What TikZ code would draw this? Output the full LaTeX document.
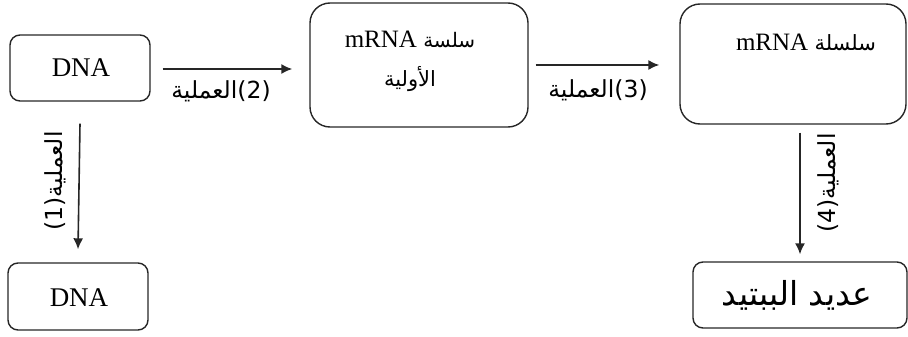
\documentclass[tikz,border=0pt]{standalone}
\usepackage{fontspec}
\setmainfont{Liberation Serif}
\newfontfamily\arabicfont[Script=Arabic]{DejaVu Sans}
\TeXXeTstate=1
\usetikzlibrary{arrows.meta}
% right-to-left Arabic run
\newcommand\artxt[1]{{\arabicfont\beginR #1\endR}}
\begin{document}
\begin{tikzpicture}[x=1pt,y=-1pt,
  box/.style={draw=black!85, line width=1.4pt, rounded corners=10pt, inner sep=0pt},
  bigbox/.style={box, rounded corners=20pt},
  boxtxt/.style={font=\fontsize{25}{30}\selectfont, inner sep=0pt},
  dnatxt/.style={font=\fontsize{27}{30}\selectfont, inner sep=0pt},
  lbl/.style={font=\arabicfont\fontsize{23.5}{26}\selectfont, inner sep=0pt},
  arr/.style={line width=1.6pt, draw=black!85, -{Latex[length=11pt,width=10pt]}}]
\useasboundingbox (0,0) rectangle (908,337);

% boxes
\node[box, minimum width=140pt, minimum height=66pt] (dna1) at (80,68) {};
\node[dnatxt] (dna1t) at (81,68) {DNA};
\node[bigbox, minimum width=218pt, minimum height=124pt] (pre) at (419,65) {};
\node[boxtxt, align=center, font=\fontsize{25}{39}\selectfont] (pret) at (410,61)
  {mRNA \artxt{\fontsize{20}{22}\selectfont سلسة}\\ \artxt{\fontsize{21}{22}\selectfont الأولية}};
\node[bigbox, minimum width=226pt, minimum height=120pt] (mrna) at (793,64) {};
\node[boxtxt] (mrnat) at (806,42) {mRNA \artxt{\fontsize{21}{22}\selectfont سلسلة}};
\node[box, minimum width=140pt, minimum height=67pt] (dna2) at (78,296.5) {};
\node[dnatxt] (dna2t) at (79,298) {DNA};
\node[box, minimum width=214pt, minimum height=66pt] (pep) at (800,295) {};
\node[inner sep=0pt, font=\arabicfont\fontsize{33}{36}\selectfont] (pept) at (797,295) {\artxt{عديد الببتيد}};

% connectors
\draw[arr] ([xshift=12pt,yshift=-1pt]dna1.east) -- ([xshift=-17pt,yshift=-1pt]dna1.east -| pre.west);
\draw[arr] ([xshift=7pt]pre.east) -- ([xshift=-20pt]pre.east -| mrna.west);
\draw[arr] ([yshift=-22pt]dna1.south) -- ([yshift=13pt]dna2.north);
\draw[arr] ([yshift=-8pt]mrna.south -| 800,0) -- ([yshift=7pt]pep.north -| 800,0);

% process labels
\node[lbl] (l2) at (221,91) {\artxt{العملية}(2)};
\node[lbl] (l3) at (598,90) {\artxt{العملية}(3)};
\node[lbl, rotate=90] (l1) at (55,181) {(1)\artxt{العملية}};
\node[lbl, rotate=90] (l4) at (828,183) {(4)\artxt{العملية}};
\end{tikzpicture}
\end{document}
